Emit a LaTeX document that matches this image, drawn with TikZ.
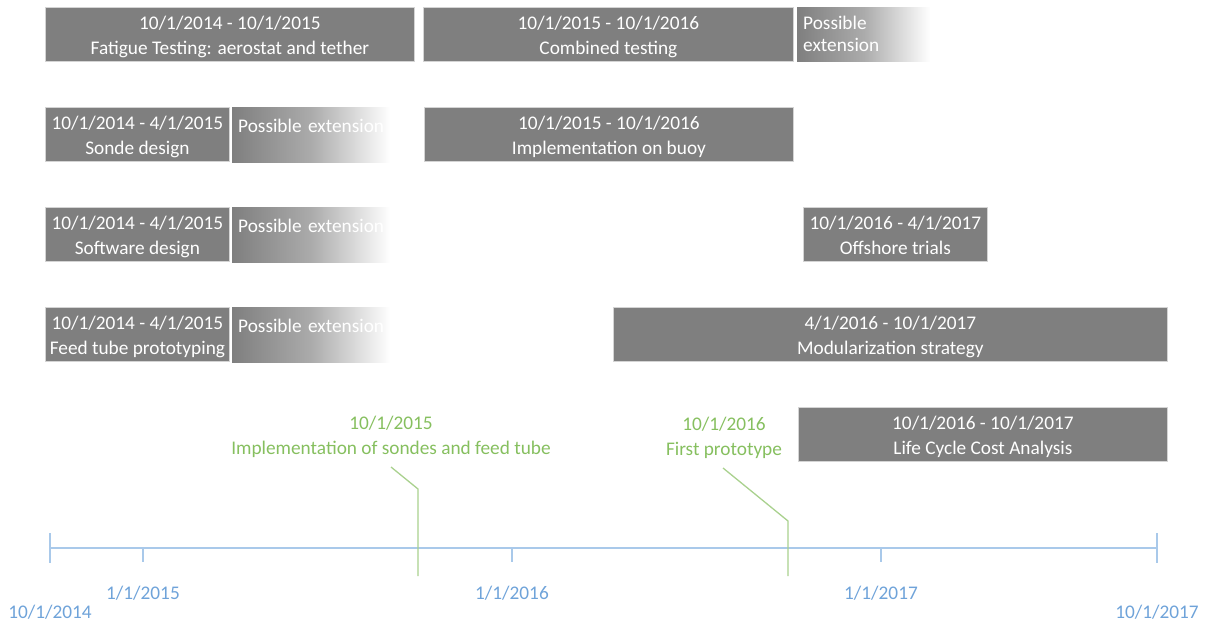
\documentclass[tikz,border=0pt]{standalone}
\usepackage{fontspec}
\setmainfont{Carlito}
\definecolor{barg}{HTML}{7F7F7F}
\definecolor{barm}{HTML}{ABABAB}
\definecolor{barb}{HTML}{D4D4D4}
\definecolor{axisc}{HTML}{A9C9EA}
\definecolor{axist}{HTML}{6FA3D9}
\definecolor{msl}{HTML}{A9D18E}
\definecolor{mst}{HTML}{86BF5F}
\pgfdeclarehorizontalshading{extfade}{100bp}{color(0bp)=(barg); color(25bp)=(barg); color(50bp)=(barm); color(75bp)=(white); color(100bp)=(white)}
\newcommand\barstrut{\rule{0pt}{21pt}}
\newcommand\extstrut{\rule{0pt}{25pt}}
\newcommand\bardepth{\rule[-5pt]{0pt}{0pt}}
\begin{document}
\begin{tikzpicture}[x=1pt,y=-1pt,
  txt/.style={font=\fontsize{19.3}{25}\selectfont},
  taskbar/.style={txt, fill=barg, draw=barb, line width=0.8pt, text=white, align=center,
    anchor=north west, inner sep=0pt, minimum height=54pt},
  extbar/.style={txt, shading=extfade, text=white, align=left, anchor=north west,
    inner xsep=6pt, inner ysep=0pt, minimum height=54pt},
  axisline/.style={draw=axisc, line width=1.3pt},
  axlab/.style={txt, text=axist, inner sep=0pt},
  mslab/.style={txt, text=mst, align=center, inner sep=0pt},
  msline/.style={draw=msl, line width=1.3pt}]
\useasboundingbox (0,0) rectangle (1209,628);

% row 1
\node[taskbar, minimum width=369pt] (t1) at (45,7) {\barstrut10/1/2014 - 10/1/2015\\Fatigue Testing: aerostat and tether\bardepth};
\node[taskbar, minimum width=370pt] (t2) at (423,7) {\barstrut10/1/2015 - 10/1/2016\\Combined testing\bardepth};
\node[extbar, text width=121pt, font=\fontsize{19.3}{22}\selectfont] (e1) at (797,7) {Possible\\extension};
% row 2
\node[taskbar, minimum width=184pt] (t3) at (45,107) {\barstrut10/1/2014 - 4/1/2015\\Sonde design\bardepth};
\node[extbar, text width=146pt] (e2) at (232,107) {\extstrut Possible extension\\\bardepth};
\node[taskbar, minimum width=369pt] (t4) at (424,107) {\barstrut10/1/2015 - 10/1/2016\\Implementation on buoy\bardepth};
% row 3
\node[taskbar, minimum width=184pt] (t5) at (45,207) {\barstrut10/1/2014 - 4/1/2015\\Software design\bardepth};
\node[extbar, text width=146pt] (e3) at (232,207) {\extstrut Possible extension\\\bardepth};
\node[taskbar, minimum width=184pt] (t6) at (803,207) {\barstrut10/1/2016 - 4/1/2017\\Offshore trials\bardepth};
% row 4
\node[taskbar, minimum width=184pt] (t7) at (45,307) {\barstrut10/1/2014 - 4/1/2015\\Feed tube prototyping\bardepth};
\node[extbar, text width=146pt] (e4) at (232,307) {\extstrut Possible extension\\\bardepth};
\node[taskbar, minimum width=554pt] (t8) at (613,307) {\barstrut4/1/2016 - 10/1/2017\\Modularization strategy\bardepth};
% row 5
\node[taskbar, minimum width=369pt] (t9) at (798,407) {\barstrut10/1/2016 - 10/1/2017\\Life Cycle Cost Analysis\bardepth};

% axis
\coordinate (a0) at (50,548);
\coordinate (a1) at (1157,548);
\coordinate (a0t) at (50,533);
\coordinate (a0b) at (50,563);
\coordinate (a1t) at (1157,533);
\coordinate (a1b) at (1157,563);
\coordinate (k1) at (143,548);
\coordinate (k1b) at (143,562);
\coordinate (k2) at (512,548);
\coordinate (k2b) at (512,562);
\coordinate (k3) at (881,548);
\coordinate (k3b) at (881,562);
\draw[axisline] (a0) -- (a1);
\draw[axisline] (a0t) -- (a0b);
\draw[axisline] (a1t) -- (a1b);
\draw[axisline] (k1) -- (k1b);
\draw[axisline] (k2) -- (k2b);
\draw[axisline] (k3) -- (k3b);

\node[axlab] (l0) at (50,612) {10/1/2014};
\node[axlab] (l1) at (143,593) {1/1/2015};
\node[axlab] (l2) at (512,593) {1/1/2016};
\node[axlab] (l3) at (881,593) {1/1/2017};
\node[axlab] (l4) at (1157,612) {10/1/2017};

% milestones
\node[mslab] (ms1) at (391,437) {10/1/2015\\Implementation of sondes and feed tube};
\node[mslab] (ms2) at (724,438) {10/1/2016\\First prototype};
\coordinate (m1a) at (391,467);
\coordinate (m1k) at (418,489);
\coordinate (m1b) at (418,576);
\coordinate (m2a) at (723,468);
\coordinate (m2k) at (788,521);
\coordinate (m2b) at (788,576);
\draw[msline] (m1a) -- (m1k) -- (m1b);
\draw[msline] (m2a) -- (m2k) -- (m2b);
\end{tikzpicture}
\end{document}
